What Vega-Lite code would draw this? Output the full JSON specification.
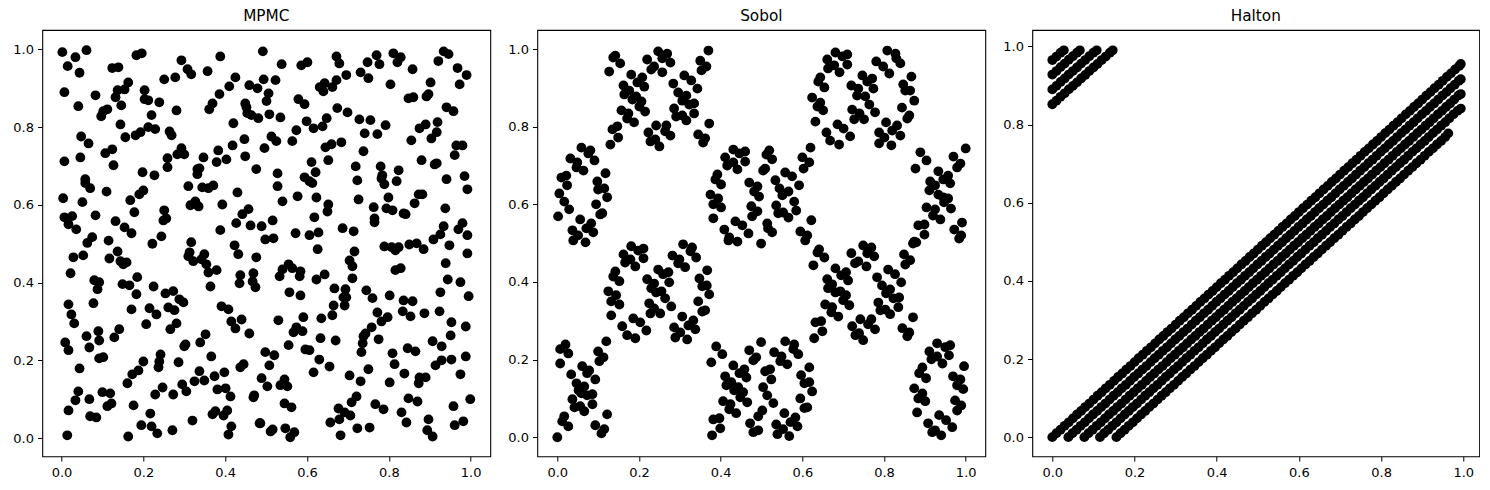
{"$schema":"https://vega.github.io/schema/vega-lite/v6.json","padding":{"left":11.3,"top":8,"right":0,"bottom":0},"background":"white","bounds":"flush","spacing":47,"config":{"view":{"stroke":"black","strokeWidth":1.1},"font":"DejaVu Sans","axis":{"grid":false,"domain":false,"tickColor":"black","tickSize":4.8,"tickWidth":1,"labelColor":"black","labelFontSize":13,"labelFont":"DejaVu Sans","labelPadding":4,"title":null,"labelFlush":false,"format":".1f"},"title":{"font":"DejaVu Sans","fontSize":15.3,"fontWeight":"normal","color":"black","offset":6}},"hconcat":[{"title":"MPMC","width":448,"height":426.3,"data":{"values":[
{"x":0.002,"y":0.993},{"x":0.034,"y":0.98},{"x":0.061,"y":0.998},{"x":0.015,"y":0.957},{"x":0.044,"y":0.94},{"x":0.007,"y":0.89},{"x":0.083,"y":0.882},{"x":0.041,"y":0.854},{"x":0.124,"y":0.952},{"x":0.139,"y":0.954},{"x":0.183,"y":0.985},{"x":0.196,"y":0.99},{"x":0.293,"y":0.972},{"x":0.388,"y":0.982},{"x":0.308,"y":0.949},{"x":0.317,"y":0.936},{"x":0.357,"y":0.944},{"x":0.251,"y":0.923},{"x":0.278,"y":0.928},{"x":0.163,"y":0.915},{"x":0.154,"y":0.897},{"x":0.137,"y":0.895},{"x":0.132,"y":0.877},{"x":0.203,"y":0.895},{"x":0.203,"y":0.872},{"x":0.212,"y":0.869},{"x":0.239,"y":0.864},{"x":0.146,"y":0.856},{"x":0.112,"y":0.846},{"x":0.102,"y":0.841},{"x":0.097,"y":0.828},{"x":0.22,"y":0.831},{"x":0.281,"y":0.843},{"x":0.144,"y":0.807},{"x":0.048,"y":0.776},{"x":0.066,"y":0.758},{"x":0.156,"y":0.774},{"x":0.181,"y":0.779},{"x":0.193,"y":0.787},{"x":0.212,"y":0.8},{"x":0.229,"y":0.795},{"x":0.264,"y":0.789},{"x":0.269,"y":0.779},{"x":0.124,"y":0.743},{"x":0.107,"y":0.733},{"x":0.007,"y":0.712},{"x":0.046,"y":0.722},{"x":0.127,"y":0.702},{"x":0.198,"y":0.684},{"x":0.227,"y":0.676},{"x":0.259,"y":0.72},{"x":0.259,"y":0.697},{"x":0.293,"y":0.746},{"x":0.283,"y":0.73},{"x":0.3,"y":0.73},{"x":0.347,"y":0.722},{"x":0.383,"y":0.74},{"x":0.379,"y":0.71},{"x":0.403,"y":0.717},{"x":0.418,"y":0.753},{"x":0.447,"y":0.769},{"x":0.449,"y":0.725},{"x":0.476,"y":0.692},{"x":0.42,"y":0.81},{"x":0.361,"y":0.846},{"x":0.369,"y":0.861},{"x":0.386,"y":0.885},{"x":0.41,"y":0.905},{"x":0.425,"y":0.928},{"x":0.459,"y":0.908},{"x":0.479,"y":0.9},{"x":0.449,"y":0.861},{"x":0.452,"y":0.851},{"x":0.454,"y":0.836},{"x":0.464,"y":0.831},{"x":0.481,"y":0.823},{"x":0.332,"y":0.692},{"x":0.337,"y":0.694},{"x":0.332,"y":0.679},{"x":0.31,"y":0.648},{"x":0.344,"y":0.645},{"x":0.359,"y":0.643},{"x":0.371,"y":0.65},{"x":0.058,"y":0.666},{"x":0.058,"y":0.656},{"x":0.07,"y":0.643},{"x":0.11,"y":0.634},{"x":0.004,"y":0.617},{"x":0.051,"y":0.607},{"x":0.2,"y":0.637},{"x":0.19,"y":0.627},{"x":0.168,"y":0.612},{"x":0.178,"y":0.581},{"x":0.251,"y":0.586},{"x":0.256,"y":0.565},{"x":0.249,"y":0.56},{"x":0.315,"y":0.599},{"x":0.327,"y":0.609},{"x":0.335,"y":0.596},{"x":0.393,"y":0.601},{"x":0.43,"y":0.632},{"x":0.457,"y":0.589},{"x":0.442,"y":0.576},{"x":0.427,"y":0.553},{"x":0.462,"y":0.547},{"x":0.007,"y":0.568},{"x":0.026,"y":0.571},{"x":0.017,"y":0.55},{"x":0.036,"y":0.537},{"x":0.083,"y":0.573},{"x":0.132,"y":0.558},{"x":0.154,"y":0.542},{"x":0.171,"y":0.527},{"x":0.244,"y":0.519},{"x":0.388,"y":0.535},{"x":0.075,"y":0.517},
{"x":0.492,"y":0.995},{"x":0.538,"y":0.962},{"x":0.586,"y":0.959},{"x":0.601,"y":0.967},{"x":0.672,"y":0.982},{"x":0.679,"y":0.964},{"x":0.77,"y":0.985},{"x":0.748,"y":0.967},{"x":0.777,"y":0.962},{"x":0.811,"y":0.99},{"x":0.829,"y":0.98},{"x":0.821,"y":0.967},{"x":0.858,"y":0.949},{"x":0.934,"y":0.995},{"x":0.946,"y":0.988},{"x":0.921,"y":0.97},{"x":0.968,"y":0.952},{"x":0.99,"y":0.934},{"x":0.973,"y":0.91},{"x":0.902,"y":0.915},{"x":0.731,"y":0.941},{"x":0.75,"y":0.926},{"x":0.696,"y":0.934},{"x":0.672,"y":0.921},{"x":0.662,"y":0.903},{"x":0.64,"y":0.892},{"x":0.643,"y":0.913},{"x":0.631,"y":0.903},{"x":0.804,"y":0.91},{"x":0.494,"y":0.923},{"x":0.523,"y":0.921},{"x":0.506,"y":0.887},{"x":0.501,"y":0.867},{"x":0.579,"y":0.872},{"x":0.594,"y":0.859},{"x":0.897,"y":0.885},{"x":0.892,"y":0.879},{"x":0.86,"y":0.877},{"x":0.848,"y":0.874},{"x":0.674,"y":0.849},{"x":0.699,"y":0.838},{"x":0.728,"y":0.82},{"x":0.755,"y":0.818},{"x":0.792,"y":0.805},{"x":0.741,"y":0.784},{"x":0.772,"y":0.782},{"x":0.648,"y":0.823},{"x":0.599,"y":0.815},{"x":0.616,"y":0.797},{"x":0.638,"y":0.802},{"x":0.574,"y":0.792},{"x":0.564,"y":0.764},{"x":0.508,"y":0.833},{"x":0.535,"y":0.825},{"x":0.513,"y":0.776},{"x":0.525,"y":0.764},{"x":0.496,"y":0.746},{"x":0.941,"y":0.851},{"x":0.958,"y":0.841},{"x":0.919,"y":0.813},{"x":0.89,"y":0.807},{"x":0.875,"y":0.797},{"x":0.917,"y":0.787},{"x":0.904,"y":0.771},{"x":0.855,"y":0.766},{"x":0.98,"y":0.753},{"x":0.965,"y":0.753},{"x":0.961,"y":0.728},{"x":0.684,"y":0.761},{"x":0.66,"y":0.756},{"x":0.645,"y":0.748},{"x":0.738,"y":0.738},{"x":0.652,"y":0.715},{"x":0.611,"y":0.71},{"x":0.621,"y":0.684},{"x":0.594,"y":0.671},{"x":0.606,"y":0.661},{"x":0.613,"y":0.656},{"x":0.528,"y":0.681},{"x":0.528,"y":0.648},{"x":0.577,"y":0.622},{"x":0.54,"y":0.609},{"x":0.623,"y":0.619},{"x":0.652,"y":0.601},{"x":0.65,"y":0.583},{"x":0.618,"y":0.568},{"x":0.719,"y":0.699},{"x":0.723,"y":0.663},{"x":0.726,"y":0.614},{"x":0.78,"y":0.699},{"x":0.784,"y":0.676},{"x":0.782,"y":0.668},{"x":0.789,"y":0.653},{"x":0.824,"y":0.689},{"x":0.819,"y":0.661},{"x":0.88,"y":0.715},{"x":0.912,"y":0.704},{"x":0.917,"y":0.707},{"x":0.941,"y":0.666},{"x":0.985,"y":0.674},{"x":0.992,"y":0.64},{"x":0.799,"y":0.619},{"x":0.763,"y":0.594},{"x":0.794,"y":0.591},{"x":0.809,"y":0.586},{"x":0.836,"y":0.578},{"x":0.841,"y":0.576},{"x":0.873,"y":0.627},{"x":0.882,"y":0.627},{"x":0.863,"y":0.604},{"x":0.938,"y":0.591},{"x":0.516,"y":0.56},{"x":0.489,"y":0.545},{"x":0.765,"y":0.565},{"x":0.765,"y":0.555},{"x":0.687,"y":0.54},{"x":0.714,"y":0.532},{"x":0.934,"y":0.545},{"x":0.98,"y":0.553},{"x":0.97,"y":0.537},{"x":0.926,"y":0.524},{"x":0.909,"y":0.511},{"x":0.992,"y":0.522},{"x":0.572,"y":0.527},{"x":0.606,"y":0.522},{"x":0.628,"y":0.529},{"x":0.498,"y":0.511},{"x":0.518,"y":0.514},
{"x":0.063,"y":0.502},{"x":0.115,"y":0.508},{"x":0.222,"y":0.5},{"x":0.317,"y":0.504},{"x":0.423,"y":0.496},{"x":0.432,"y":0.473},{"x":0.476,"y":0.465},{"x":0.029,"y":0.465},{"x":0.053,"y":0.47},{"x":0.117,"y":0.462},{"x":0.137,"y":0.48},{"x":0.144,"y":0.455},{"x":0.159,"y":0.452},{"x":0.151,"y":0.447},{"x":0.313,"y":0.478},{"x":0.31,"y":0.468},{"x":0.322,"y":0.455},{"x":0.349,"y":0.473},{"x":0.342,"y":0.46},{"x":0.354,"y":0.447},{"x":0.359,"y":0.426},{"x":0.379,"y":0.432},{"x":0.022,"y":0.424},{"x":0.08,"y":0.406},{"x":0.092,"y":0.401},{"x":0.088,"y":0.383},{"x":0.185,"y":0.414},{"x":0.149,"y":0.396},{"x":0.166,"y":0.393},{"x":0.183,"y":0.37},{"x":0.225,"y":0.39},{"x":0.254,"y":0.372},{"x":0.273,"y":0.378},{"x":0.288,"y":0.357},{"x":0.298,"y":0.349},{"x":0.364,"y":0.39},{"x":0.437,"y":0.419},{"x":0.435,"y":0.398},{"x":0.469,"y":0.424},{"x":0.467,"y":0.403},{"x":0.474,"y":0.388},{"x":0.078,"y":0.347},{"x":0.017,"y":0.344},{"x":0.024,"y":0.318},{"x":0.031,"y":0.295},{"x":0.171,"y":0.331},{"x":0.215,"y":0.334},{"x":0.232,"y":0.318},{"x":0.261,"y":0.336},{"x":0.276,"y":0.329},{"x":0.391,"y":0.339},{"x":0.408,"y":0.331},{"x":0.415,"y":0.3},{"x":0.425,"y":0.282},{"x":0.44,"y":0.305},{"x":0.459,"y":0.269},{"x":0.281,"y":0.295},{"x":0.266,"y":0.28},{"x":0.207,"y":0.293},{"x":0.09,"y":0.275},{"x":0.141,"y":0.28},{"x":0.129,"y":0.259},{"x":0.061,"y":0.262},{"x":0.092,"y":0.251},{"x":0.068,"y":0.233},{"x":0.009,"y":0.246},{"x":0.017,"y":0.226},{"x":0.352,"y":0.267},{"x":0.339,"y":0.246},{"x":0.303,"y":0.241},{"x":0.3,"y":0.236},{"x":0.092,"y":0.205},{"x":0.102,"y":0.208},{"x":0.044,"y":0.179},{"x":0.2,"y":0.197},{"x":0.242,"y":0.215},{"x":0.239,"y":0.197},{"x":0.237,"y":0.182},{"x":0.286,"y":0.195},{"x":0.366,"y":0.21},{"x":0.437,"y":0.182},{"x":0.445,"y":0.19},{"x":0.188,"y":0.174},{"x":0.173,"y":0.164},{"x":0.161,"y":0.141},{"x":0.337,"y":0.172},{"x":0.374,"y":0.159},{"x":0.398,"y":0.169},{"x":0.349,"y":0.148},{"x":0.325,"y":0.146},{"x":0.295,"y":0.138},{"x":0.305,"y":0.12},{"x":0.247,"y":0.13},{"x":0.229,"y":0.112},{"x":0.273,"y":0.112},{"x":0.041,"y":0.12},{"x":0.034,"y":0.097},{"x":0.068,"y":0.1},{"x":0.1,"y":0.118},{"x":0.119,"y":0.115},{"x":0.122,"y":0.089},{"x":0.112,"y":0.082},{"x":0.017,"y":0.071},{"x":0.176,"y":0.084},{"x":0.07,"y":0.056},{"x":0.085,"y":0.053},{"x":0.217,"y":0.063},{"x":0.195,"y":0.033},{"x":0.22,"y":0.03},{"x":0.234,"y":0.012},{"x":0.271,"y":0.02},{"x":0.32,"y":0.045},{"x":0.381,"y":0.125},{"x":0.401,"y":0.128},{"x":0.413,"y":0.107},{"x":0.471,"y":0.11},{"x":0.469,"y":0.105},{"x":0.369,"y":0.061},{"x":0.376,"y":0.069},{"x":0.396,"y":0.058},{"x":0.405,"y":0.071},{"x":0.415,"y":0.03},{"x":0.408,"y":0.009},{"x":0.484,"y":0.038},{"x":0.014,"y":0.007},{"x":0.163,"y":0.004},
{"x":0.626,"y":0.486},{"x":0.716,"y":0.48},{"x":0.704,"y":0.457},{"x":0.711,"y":0.442},{"x":0.711,"y":0.411},{"x":0.789,"y":0.493},{"x":0.807,"y":0.491},{"x":0.816,"y":0.483},{"x":0.824,"y":0.491},{"x":0.85,"y":0.498},{"x":0.868,"y":0.501},{"x":0.885,"y":0.486},{"x":0.948,"y":0.496},{"x":0.992,"y":0.475},{"x":0.939,"y":0.45},{"x":0.944,"y":0.408},{"x":0.975,"y":0.401},{"x":0.926,"y":0.375},{"x":0.995,"y":0.365},{"x":0.816,"y":0.432},{"x":0.829,"y":0.437},{"x":0.555,"y":0.447},{"x":0.54,"y":0.434},{"x":0.564,"y":0.437},{"x":0.533,"y":0.416},{"x":0.584,"y":0.429},{"x":0.582,"y":0.416},{"x":0.643,"y":0.421},{"x":0.623,"y":0.408},{"x":0.557,"y":0.375},{"x":0.584,"y":0.367},{"x":0.667,"y":0.385},{"x":0.694,"y":0.383},{"x":0.696,"y":0.362},{"x":0.689,"y":0.362},{"x":0.692,"y":0.341},{"x":0.665,"y":0.341},{"x":0.662,"y":0.316},{"x":0.745,"y":0.38},{"x":0.76,"y":0.36},{"x":0.802,"y":0.367},{"x":0.836,"y":0.354},{"x":0.858,"y":0.352},{"x":0.772,"y":0.323},{"x":0.834,"y":0.326},{"x":0.853,"y":0.313},{"x":0.887,"y":0.321},{"x":0.924,"y":0.326},{"x":0.797,"y":0.311},{"x":0.782,"y":0.3},{"x":0.758,"y":0.285},{"x":0.743,"y":0.269},{"x":0.738,"y":0.262},{"x":0.736,"y":0.244},{"x":0.733,"y":0.221},{"x":0.775,"y":0.254},{"x":0.53,"y":0.303},{"x":0.591,"y":0.311},{"x":0.635,"y":0.308},{"x":0.574,"y":0.285},{"x":0.567,"y":0.272},{"x":0.589,"y":0.275},{"x":0.633,"y":0.257},{"x":0.67,"y":0.251},{"x":0.555,"y":0.239},{"x":0.596,"y":0.228},{"x":0.606,"y":0.226},{"x":0.63,"y":0.202},{"x":0.655,"y":0.184},{"x":0.616,"y":0.169},{"x":0.498,"y":0.221},{"x":0.52,"y":0.213},{"x":0.508,"y":0.187},{"x":0.489,"y":0.154},{"x":0.503,"y":0.133},{"x":0.545,"y":0.151},{"x":0.535,"y":0.136},{"x":0.552,"y":0.133},{"x":0.545,"y":0.089},{"x":0.562,"y":0.079},{"x":0.704,"y":0.161},{"x":0.731,"y":0.146},{"x":0.75,"y":0.177},{"x":0.809,"y":0.218},{"x":0.814,"y":0.19},{"x":0.846,"y":0.231},{"x":0.865,"y":0.223},{"x":0.907,"y":0.249},{"x":0.929,"y":0.236},{"x":0.951,"y":0.264},{"x":0.953,"y":0.298},{"x":0.988,"y":0.287},{"x":0.988,"y":0.21},{"x":0.953,"y":0.202},{"x":0.929,"y":0.2},{"x":0.914,"y":0.187},{"x":0.838,"y":0.166},{"x":0.802,"y":0.143},{"x":0.875,"y":0.156},{"x":0.89,"y":0.156},{"x":0.873,"y":0.141},{"x":0.975,"y":0.164},{"x":0.721,"y":0.107},{"x":0.709,"y":0.092},{"x":0.677,"y":0.076},{"x":0.692,"y":0.066},{"x":0.706,"y":0.058},{"x":0.679,"y":0.048},{"x":0.657,"y":0.04},{"x":0.723,"y":0.025},{"x":0.753,"y":0.027},{"x":0.682,"y":0.007},{"x":0.767,"y":0.087},{"x":0.787,"y":0.074},{"x":0.831,"y":0.066},{"x":0.843,"y":0.04},{"x":0.848,"y":0.102},{"x":0.87,"y":0.094},{"x":0.897,"y":0.048},{"x":0.894,"y":0.02},{"x":0.907,"y":0.004},{"x":0.958,"y":0.082},{"x":0.999,"y":0.1},{"x":0.982,"y":0.043},{"x":0.961,"y":0.033},{"x":0.486,"y":0.038},{"x":0.516,"y":0.022},{"x":0.511,"y":0.017},{"x":0.547,"y":0.025},{"x":0.569,"y":0.015},{"x":0.559,"y":0.002}
]},"mark":{"type":"circle","size":96,"color":"black","opacity":1},"encoding":{"x":{"field":"x","type":"quantitative","scale":{"domain":[-0.047,1.048],"nice":false,"zero":false},"axis":{"values":[0,0.2,0.4,0.6,0.8,1],"labelPadding":5.5}},"y":{"field":"y","type":"quantitative","scale":{"domain":[-0.047,1.05],"nice":false,"zero":false},"axis":{"values":[0,0.2,0.4,0.6,0.8,1]}}}},{"title":"Sobol","width":448,"height":426.3,"data":{"values":[
{"x":0.142,"y":0.983},{"x":0.137,"y":0.978},{"x":0.154,"y":0.963},{"x":0.127,"y":0.942},{"x":0.181,"y":0.934},{"x":0.162,"y":0.906},{"x":0.208,"y":0.927},{"x":0.196,"y":0.914},{"x":0.213,"y":0.903},{"x":0.176,"y":0.893},{"x":0.164,"y":0.883},{"x":0.184,"y":0.87},{"x":0.193,"y":0.878},{"x":0.206,"y":0.865},{"x":0.201,"y":0.852},{"x":0.215,"y":0.839},{"x":0.157,"y":0.842},{"x":0.174,"y":0.834},{"x":0.171,"y":0.821},{"x":0.188,"y":0.811},{"x":0.147,"y":0.801},{"x":0.135,"y":0.793},{"x":0.149,"y":0.772},{"x":0.13,"y":0.754},{"x":0.247,"y":0.994},{"x":0.269,"y":0.988},{"x":0.257,"y":0.976},{"x":0.22,"y":0.973},{"x":0.277,"y":0.965},{"x":0.237,"y":0.955},{"x":0.23,"y":0.947},{"x":0.257,"y":0.94},{"x":0.242,"y":0.803},{"x":0.267,"y":0.803},{"x":0.223,"y":0.785},{"x":0.264,"y":0.788},{"x":0.277,"y":0.777},{"x":0.24,"y":0.767},{"x":0.228,"y":0.762},{"x":0.25,"y":0.749},{"x":0.37,"y":0.996},{"x":0.35,"y":0.97},{"x":0.365,"y":0.955},{"x":0.353,"y":0.945},{"x":0.311,"y":0.932},{"x":0.328,"y":0.919},{"x":0.284,"y":0.911},{"x":0.343,"y":0.898},{"x":0.296,"y":0.888},{"x":0.316,"y":0.88},{"x":0.306,"y":0.867},{"x":0.323,"y":0.857},{"x":0.335,"y":0.86},{"x":0.286,"y":0.847},{"x":0.291,"y":0.826},{"x":0.306,"y":0.829},{"x":0.316,"y":0.816},{"x":0.335,"y":0.834},{"x":0.372,"y":0.808},{"x":0.345,"y":0.78},{"x":0.362,"y":0.77},{"x":0.357,"y":0.759},
{"x":0.059,"y":0.746},{"x":0.081,"y":0.739},{"x":0.076,"y":0.731},{"x":0.032,"y":0.718},{"x":0.091,"y":0.713},{"x":0.049,"y":0.708},{"x":0.047,"y":0.695},{"x":0.064,"y":0.687},{"x":0.022,"y":0.674},{"x":0.01,"y":0.669},{"x":0.118,"y":0.68},{"x":0.098,"y":0.659},{"x":0.024,"y":0.649},{"x":0.115,"y":0.641},{"x":0.1,"y":0.638},{"x":0.005,"y":0.628},{"x":0.122,"y":0.618},{"x":0.017,"y":0.607},{"x":0.095,"y":0.6},{"x":0.029,"y":0.587},{"x":0.11,"y":0.577},{"x":0.105,"y":0.574},{"x":0.002,"y":0.569},{"x":0.056,"y":0.561},{"x":0.083,"y":0.551},{"x":0.071,"y":0.538},{"x":0.037,"y":0.533},{"x":0.088,"y":0.528},{"x":0.051,"y":0.52},{"x":0.039,"y":0.507},{"x":0.069,"y":0.502},
{"x":0.431,"y":0.741},{"x":0.46,"y":0.736},{"x":0.446,"y":0.731},{"x":0.411,"y":0.721},{"x":0.46,"y":0.71},{"x":0.431,"y":0.708},{"x":0.416,"y":0.7},{"x":0.441,"y":0.69},{"x":0.392,"y":0.677},{"x":0.387,"y":0.664},{"x":0.401,"y":0.651},{"x":0.47,"y":0.656},{"x":0.49,"y":0.646},{"x":0.482,"y":0.633},{"x":0.494,"y":0.62},{"x":0.375,"y":0.625},{"x":0.394,"y":0.615},{"x":0.382,"y":0.6},{"x":0.401,"y":0.592},{"x":0.475,"y":0.595},{"x":0.49,"y":0.582},{"x":0.477,"y":0.569},{"x":0.382,"y":0.564},{"x":0.436,"y":0.556},{"x":0.453,"y":0.546},{"x":0.409,"y":0.535},{"x":0.468,"y":0.525},{"x":0.421,"y":0.515},{"x":0.441,"y":0.504},{"x":0.419,"y":0.507},{"x":0.499,"y":0.499},
{"x":0.681,"y":0.991},{"x":0.71,"y":0.986},{"x":0.698,"y":0.981},{"x":0.661,"y":0.973},{"x":0.71,"y":0.96},{"x":0.678,"y":0.958},{"x":0.663,"y":0.95},{"x":0.691,"y":0.94},{"x":0.644,"y":0.927},{"x":0.639,"y":0.916},{"x":0.654,"y":0.901},{"x":0.624,"y":0.875},{"x":0.644,"y":0.862},{"x":0.637,"y":0.852},{"x":0.651,"y":0.842},{"x":0.632,"y":0.813},{"x":0.686,"y":0.806},{"x":0.701,"y":0.795},{"x":0.659,"y":0.785},{"x":0.717,"y":0.775},{"x":0.668,"y":0.764},{"x":0.69,"y":0.754},{"x":0.747,"y":0.932},{"x":0.771,"y":0.924},{"x":0.759,"y":0.916},{"x":0.72,"y":0.906},{"x":0.774,"y":0.898},{"x":0.737,"y":0.898},{"x":0.734,"y":0.88},{"x":0.754,"y":0.878},{"x":0.764,"y":0.857},{"x":0.722,"y":0.844},{"x":0.74,"y":0.834},{"x":0.778,"y":0.837},{"x":0.727,"y":0.819},{"x":0.751,"y":0.819},{"x":0.808,"y":0.996},{"x":0.828,"y":0.988},{"x":0.83,"y":0.976},{"x":0.781,"y":0.968},{"x":0.84,"y":0.963},{"x":0.798,"y":0.955},{"x":0.813,"y":0.937},{"x":0.867,"y":0.929},{"x":0.847,"y":0.909},{"x":0.852,"y":0.893},{"x":0.864,"y":0.893},{"x":0.874,"y":0.867},{"x":0.844,"y":0.849},{"x":0.862,"y":0.829},{"x":0.857,"y":0.821},{"x":0.805,"y":0.811},{"x":0.832,"y":0.803},{"x":0.82,"y":0.79},{"x":0.84,"y":0.777},{"x":0.788,"y":0.785},{"x":0.801,"y":0.772},{"x":0.788,"y":0.757},{"x":0.818,"y":0.752},
{"x":0.62,"y":0.746},{"x":0.6,"y":0.721},{"x":0.617,"y":0.708},{"x":0.603,"y":0.692},{"x":0.558,"y":0.682},{"x":0.575,"y":0.672},{"x":0.592,"y":0.649},{"x":0.534,"y":0.662},{"x":0.544,"y":0.641},{"x":0.566,"y":0.633},{"x":0.551,"y":0.623},{"x":0.58,"y":0.607},{"x":0.536,"y":0.597},{"x":0.585,"y":0.584},{"x":0.541,"y":0.577},{"x":0.553,"y":0.579},{"x":0.566,"y":0.566},{"x":0.622,"y":0.559},{"x":0.514,"y":0.551},{"x":0.595,"y":0.53},{"x":0.516,"y":0.538},{"x":0.526,"y":0.528},{"x":0.612,"y":0.52},{"x":0.607,"y":0.507},{"x":0.519,"y":0.739},{"x":0.512,"y":0.728},{"x":0.526,"y":0.716},{"x":0.509,"y":0.692},{"x":0.504,"y":0.687},
{"x":0.889,"y":0.734},{"x":0.904,"y":0.713},{"x":0.877,"y":0.692},{"x":1,"y":0.744},{"x":0.97,"y":0.723},{"x":0.987,"y":0.705},{"x":0.979,"y":0.695},{"x":0.933,"y":0.685},{"x":0.957,"y":0.674},{"x":0.945,"y":0.664},{"x":0.962,"y":0.654},{"x":0.913,"y":0.659},{"x":0.925,"y":0.649},{"x":0.911,"y":0.636},{"x":0.933,"y":0.625},{"x":0.945,"y":0.618},{"x":0.957,"y":0.615},{"x":0.947,"y":0.605},{"x":0.964,"y":0.589},{"x":0.904,"y":0.592},{"x":0.925,"y":0.587},{"x":0.92,"y":0.571},{"x":0.938,"y":0.561},{"x":0.991,"y":0.553},{"x":0.884,"y":0.546},{"x":0.899,"y":0.548},{"x":0.972,"y":0.535},{"x":0.989,"y":0.52},{"x":0.984,"y":0.512},{"x":0.899,"y":0.522},{"x":0.874,"y":0.504},
{"x":0.181,"y":0.492},{"x":0.198,"y":0.481},{"x":0.211,"y":0.486},{"x":0.162,"y":0.471},{"x":0.211,"y":0.461},{"x":0.179,"y":0.458},{"x":0.166,"y":0.45},{"x":0.191,"y":0.44},{"x":0.142,"y":0.427},{"x":0.137,"y":0.414},{"x":0.152,"y":0.402},{"x":0.125,"y":0.376},{"x":0.144,"y":0.366},{"x":0.132,"y":0.35},{"x":0.152,"y":0.342},{"x":0.132,"y":0.314},{"x":0.308,"y":0.497},{"x":0.33,"y":0.489},{"x":0.326,"y":0.479},{"x":0.34,"y":0.463},{"x":0.282,"y":0.468},{"x":0.299,"y":0.458},{"x":0.296,"y":0.448},{"x":0.313,"y":0.438},{"x":0.367,"y":0.43},{"x":0.247,"y":0.432},{"x":0.272,"y":0.425},{"x":0.259,"y":0.42},{"x":0.348,"y":0.409},{"x":0.22,"y":0.407},{"x":0.237,"y":0.396},{"x":0.274,"y":0.399},{"x":0.366,"y":0.391},{"x":0.355,"y":0.389},{"x":0.23,"y":0.384},{"x":0.255,"y":0.376},{"x":0.242,"y":0.373},{"x":0.372,"y":0.368},{"x":0.264,"y":0.358},{"x":0.345,"y":0.35},{"x":0.225,"y":0.345},{"x":0.279,"y":0.337},{"x":0.237,"y":0.332},{"x":0.228,"y":0.319},{"x":0.252,"y":0.319},{"x":0.362,"y":0.327},{"x":0.355,"y":0.324},{"x":0.306,"y":0.311},{"x":0.186,"y":0.306},{"x":0.203,"y":0.296},{"x":0.159,"y":0.286},{"x":0.218,"y":0.275},{"x":0.171,"y":0.263},{"x":0.191,"y":0.255},{"x":0.333,"y":0.301},{"x":0.321,"y":0.288},{"x":0.286,"y":0.283},{"x":0.338,"y":0.278},{"x":0.301,"y":0.27},{"x":0.289,"y":0.257},{"x":0.318,"y":0.252},
{"x":0.12,"y":0.247},{"x":0.02,"y":0.239},{"x":0.007,"y":0.227},{"x":0.027,"y":0.216},{"x":0.1,"y":0.221},{"x":0.113,"y":0.206},{"x":0.103,"y":0.196},{"x":0.007,"y":0.19},{"x":0.061,"y":0.183},{"x":0.078,"y":0.172},{"x":0.073,"y":0.165},{"x":0.034,"y":0.162},{"x":0.093,"y":0.149},{"x":0.047,"y":0.139},{"x":0.066,"y":0.131},{"x":0.052,"y":0.121},{"x":0.059,"y":0.113},{"x":0.086,"y":0.111},{"x":0.073,"y":0.108},{"x":0.037,"y":0.098},{"x":0.086,"y":0.085},{"x":0.042,"y":0.077},{"x":0.056,"y":0.08},{"x":0.066,"y":0.067},{"x":0.122,"y":0.059},{"x":0.017,"y":0.054},{"x":0.012,"y":0.041},{"x":0.027,"y":0.028},{"x":0.093,"y":0.031},{"x":0.115,"y":0.021},{"x":0.108,"y":0.01},{"x":0,"y":0},
{"x":0.389,"y":0.234},{"x":0.404,"y":0.214},{"x":0.377,"y":0.193},{"x":0.499,"y":0.245},{"x":0.47,"y":0.224},{"x":0.487,"y":0.206},{"x":0.48,"y":0.198},{"x":0.431,"y":0.185},{"x":0.458,"y":0.175},{"x":0.446,"y":0.165},{"x":0.463,"y":0.154},{"x":0.411,"y":0.157},{"x":0.426,"y":0.142},{"x":0.414,"y":0.134},{"x":0.509,"y":0.17},{"x":0.443,"y":0.129},{"x":0.433,"y":0.121},{"x":0.455,"y":0.116},{"x":0.448,"y":0.103},{"x":0.465,"y":0.09},{"x":0.406,"y":0.093},{"x":0.424,"y":0.085},{"x":0.421,"y":0.072},{"x":0.438,"y":0.062},{"x":0.502,"y":0.069},{"x":0.492,"y":0.054},{"x":0.382,"y":0.046},{"x":0.397,"y":0.049},{"x":0.472,"y":0.036},{"x":0.399,"y":0.023},{"x":0.492,"y":0.018},{"x":0.48,"y":0.013},{"x":0.379,"y":0.005},{"x":0.504,"y":0.129},
{"x":0.558,"y":0.247},{"x":0.58,"y":0.239},{"x":0.578,"y":0.227},{"x":0.59,"y":0.214},{"x":0.531,"y":0.219},{"x":0.549,"y":0.208},{"x":0.546,"y":0.196},{"x":0.563,"y":0.188},{"x":0.521,"y":0.175},{"x":0.524,"y":0.149},{"x":0.617,"y":0.18},{"x":0.597,"y":0.16},{"x":0.605,"y":0.139},{"x":0.617,"y":0.142},{"x":0.624,"y":0.118},{"x":0.514,"y":0.108},{"x":0.529,"y":0.088},{"x":0.595,"y":0.1},{"x":0.612,"y":0.077},{"x":0.605,"y":0.075},{"x":0.556,"y":0.062},{"x":0.583,"y":0.051},{"x":0.571,"y":0.039},{"x":0.536,"y":0.033},{"x":0.553,"y":0.021},{"x":0.588,"y":0.028},{"x":0.539,"y":0.008},{"x":0.568,"y":0.003},
{"x":0.641,"y":0.484},{"x":0.637,"y":0.476},{"x":0.654,"y":0.463},{"x":0.627,"y":0.443},{"x":0.72,"y":0.474},{"x":0.737,"y":0.453},{"x":0.729,"y":0.448},{"x":0.757,"y":0.44},{"x":0.749,"y":0.494},{"x":0.769,"y":0.489},{"x":0.759,"y":0.474},{"x":0.776,"y":0.466},{"x":0.871,"y":0.499},{"x":0.879,"y":0.502},{"x":0.849,"y":0.471},{"x":0.864,"y":0.456},{"x":0.852,"y":0.445},{"x":0.681,"y":0.435},{"x":0.707,"y":0.425},{"x":0.695,"y":0.417},{"x":0.712,"y":0.404},{"x":0.661,"y":0.407},{"x":0.673,"y":0.394},{"x":0.663,"y":0.384},{"x":0.693,"y":0.376},{"x":0.681,"y":0.373},{"x":0.707,"y":0.366},{"x":0.7,"y":0.353},{"x":0.715,"y":0.34},{"x":0.656,"y":0.342},{"x":0.673,"y":0.335},{"x":0.671,"y":0.322},{"x":0.688,"y":0.311},{"x":0.81,"y":0.432},{"x":0.827,"y":0.42},{"x":0.783,"y":0.412},{"x":0.842,"y":0.399},{"x":0.795,"y":0.391},{"x":0.815,"y":0.381},{"x":0.805,"y":0.371},{"x":0.823,"y":0.358},{"x":0.837,"y":0.36},{"x":0.786,"y":0.347},{"x":0.835,"y":0.335},{"x":0.791,"y":0.327},{"x":0.803,"y":0.329},{"x":0.815,"y":0.317},{"x":0.871,"y":0.309},{"x":0.742,"y":0.304},{"x":0.769,"y":0.304},{"x":0.646,"y":0.299},{"x":0.632,"y":0.296},{"x":0.722,"y":0.286},{"x":0.761,"y":0.291},{"x":0.778,"y":0.278},{"x":0.649,"y":0.273},{"x":0.739,"y":0.268},{"x":0.73,"y":0.263},{"x":0.629,"y":0.255},{"x":0.749,"y":0.25},{"x":0.845,"y":0.281},{"x":0.862,"y":0.27},{"x":0.857,"y":0.26},
{"x":0.93,"y":0.242},{"x":0.962,"y":0.237},{"x":0.95,"y":0.232},{"x":0.911,"y":0.221},{"x":0.959,"y":0.211},{"x":0.93,"y":0.208},{"x":0.916,"y":0.201},{"x":0.943,"y":0.19},{"x":0.996,"y":0.183},{"x":0.894,"y":0.18},{"x":0.886,"y":0.165},{"x":0.903,"y":0.152},{"x":0.969,"y":0.157},{"x":0.987,"y":0.149},{"x":0.979,"y":0.134},{"x":0.994,"y":0.124},{"x":0.874,"y":0.126},{"x":0.894,"y":0.113},{"x":0.884,"y":0.1},{"x":0.901,"y":0.093},{"x":0.974,"y":0.095},{"x":0.989,"y":0.082},{"x":0.979,"y":0.069},{"x":0.881,"y":0.064},{"x":0.935,"y":0.057},{"x":0.952,"y":0.044},{"x":0.908,"y":0.036},{"x":0.967,"y":0.026},{"x":0.925,"y":0.018},{"x":0.918,"y":0.013},{"x":0.94,"y":0.005}
]},"mark":{"type":"circle","size":96,"color":"black","opacity":1},"encoding":{"x":{"field":"x","type":"quantitative","scale":{"domain":[-0.049,1.048],"nice":false,"zero":false},"axis":{"values":[0,0.2,0.4,0.6,0.8,1],"labelPadding":5.5}},"y":{"field":"y","type":"quantitative","scale":{"domain":[-0.049,1.049],"nice":false,"zero":false},"axis":{"values":[0,0.2,0.4,0.6,0.8,1]}}}},{"title":"Halton","width":447,"height":426.3,"data":{"values":[
{"x":0,"y":0},{"x":0.01,"y":0.01},{"x":0.02,"y":0.019},{"x":0.03,"y":0.029},{"x":0.04,"y":0.038},{"x":0.05,"y":0.048},{"x":0.06,"y":0.058},{"x":0.07,"y":0.067},{"x":0.08,"y":0.077},{"x":0.09,"y":0.086},{"x":0.1,"y":0.096},{"x":0.11,"y":0.106},{"x":0.12,"y":0.115},{"x":0.13,"y":0.125},{"x":0.14,"y":0.134},{"x":0.15,"y":0.144},{"x":0.16,"y":0.154},{"x":0.17,"y":0.163},{"x":0.18,"y":0.173},{"x":0.19,"y":0.182},{"x":0.2,"y":0.192},{"x":0.21,"y":0.202},{"x":0.22,"y":0.211},{"x":0.23,"y":0.221},{"x":0.24,"y":0.23},{"x":0.25,"y":0.24},{"x":0.26,"y":0.25},{"x":0.27,"y":0.259},{"x":0.28,"y":0.269},{"x":0.29,"y":0.278},{"x":0.3,"y":0.288},{"x":0.31,"y":0.298},{"x":0.32,"y":0.307},{"x":0.33,"y":0.317},{"x":0.34,"y":0.326},{"x":0.35,"y":0.336},{"x":0.36,"y":0.346},{"x":0.37,"y":0.355},{"x":0.38,"y":0.365},{"x":0.39,"y":0.374},{"x":0.4,"y":0.384},{"x":0.41,"y":0.394},{"x":0.42,"y":0.403},{"x":0.43,"y":0.413},{"x":0.44,"y":0.422},{"x":0.45,"y":0.432},{"x":0.46,"y":0.442},{"x":0.47,"y":0.451},{"x":0.48,"y":0.461},{"x":0.49,"y":0.47},{"x":0.5,"y":0.48},{"x":0.51,"y":0.49},{"x":0.52,"y":0.499},{"x":0.53,"y":0.509},{"x":0.54,"y":0.518},{"x":0.55,"y":0.528},{"x":0.56,"y":0.538},{"x":0.57,"y":0.547},{"x":0.58,"y":0.557},{"x":0.59,"y":0.566},{"x":0.6,"y":0.576},{"x":0.61,"y":0.586},{"x":0.62,"y":0.595},{"x":0.63,"y":0.605},{"x":0.64,"y":0.614},{"x":0.65,"y":0.624},{"x":0.66,"y":0.634},{"x":0.67,"y":0.643},{"x":0.68,"y":0.653},{"x":0.69,"y":0.662},{"x":0.7,"y":0.672},{"x":0.71,"y":0.682},{"x":0.72,"y":0.691},{"x":0.73,"y":0.701},{"x":0.74,"y":0.71},{"x":0.75,"y":0.72},{"x":0.76,"y":0.73},{"x":0.77,"y":0.739},{"x":0.78,"y":0.749},{"x":0.79,"y":0.758},{"x":0.8,"y":0.768},{"x":0.81,"y":0.778},{"x":0.82,"y":0.787},{"x":0.83,"y":0.797},{"x":0.84,"y":0.806},{"x":0.85,"y":0.816},{"x":0.86,"y":0.826},{"x":0.87,"y":0.835},{"x":0.88,"y":0.845},{"x":0.89,"y":0.854},{"x":0.9,"y":0.864},{"x":0.91,"y":0.874},{"x":0.92,"y":0.883},{"x":0.93,"y":0.893},{"x":0.94,"y":0.902},{"x":0.95,"y":0.912},{"x":0.96,"y":0.922},{"x":0.97,"y":0.931},{"x":0.98,"y":0.941},{"x":0.99,"y":0.95},{"x":0.994,"y":0.955},
{"x":0.039,"y":0},{"x":0.049,"y":0.01},{"x":0.059,"y":0.019},{"x":0.069,"y":0.029},{"x":0.079,"y":0.038},{"x":0.089,"y":0.048},{"x":0.099,"y":0.058},{"x":0.109,"y":0.067},{"x":0.119,"y":0.077},{"x":0.129,"y":0.086},{"x":0.139,"y":0.096},{"x":0.149,"y":0.106},{"x":0.159,"y":0.115},{"x":0.169,"y":0.125},{"x":0.179,"y":0.134},{"x":0.189,"y":0.144},{"x":0.199,"y":0.154},{"x":0.209,"y":0.163},{"x":0.219,"y":0.173},{"x":0.229,"y":0.182},{"x":0.239,"y":0.192},{"x":0.249,"y":0.202},{"x":0.259,"y":0.211},{"x":0.269,"y":0.221},{"x":0.279,"y":0.23},{"x":0.289,"y":0.24},{"x":0.299,"y":0.25},{"x":0.309,"y":0.259},{"x":0.319,"y":0.269},{"x":0.329,"y":0.278},{"x":0.339,"y":0.288},{"x":0.349,"y":0.298},{"x":0.359,"y":0.307},{"x":0.369,"y":0.317},{"x":0.379,"y":0.326},{"x":0.389,"y":0.336},{"x":0.399,"y":0.346},{"x":0.409,"y":0.355},{"x":0.419,"y":0.365},{"x":0.429,"y":0.374},{"x":0.439,"y":0.384},{"x":0.449,"y":0.394},{"x":0.459,"y":0.403},{"x":0.469,"y":0.413},{"x":0.479,"y":0.422},{"x":0.489,"y":0.432},{"x":0.499,"y":0.442},{"x":0.509,"y":0.451},{"x":0.519,"y":0.461},{"x":0.529,"y":0.47},{"x":0.539,"y":0.48},{"x":0.549,"y":0.49},{"x":0.559,"y":0.499},{"x":0.569,"y":0.509},{"x":0.579,"y":0.518},{"x":0.589,"y":0.528},{"x":0.599,"y":0.538},{"x":0.609,"y":0.547},{"x":0.619,"y":0.557},{"x":0.629,"y":0.566},{"x":0.639,"y":0.576},{"x":0.649,"y":0.586},{"x":0.659,"y":0.595},{"x":0.669,"y":0.605},{"x":0.679,"y":0.614},{"x":0.689,"y":0.624},{"x":0.699,"y":0.634},{"x":0.709,"y":0.643},{"x":0.719,"y":0.653},{"x":0.729,"y":0.662},{"x":0.739,"y":0.672},{"x":0.749,"y":0.682},{"x":0.759,"y":0.691},{"x":0.769,"y":0.701},{"x":0.779,"y":0.71},{"x":0.789,"y":0.72},{"x":0.799,"y":0.73},{"x":0.809,"y":0.739},{"x":0.819,"y":0.749},{"x":0.829,"y":0.758},{"x":0.839,"y":0.768},{"x":0.849,"y":0.778},{"x":0.859,"y":0.787},{"x":0.869,"y":0.797},{"x":0.879,"y":0.806},{"x":0.889,"y":0.816},{"x":0.899,"y":0.826},{"x":0.909,"y":0.835},{"x":0.919,"y":0.845},{"x":0.929,"y":0.854},{"x":0.939,"y":0.864},{"x":0.949,"y":0.874},{"x":0.959,"y":0.883},{"x":0.969,"y":0.893},{"x":0.979,"y":0.902},{"x":0.989,"y":0.912},{"x":0.994,"y":0.916},
{"x":0.078,"y":0},{"x":0.088,"y":0.01},{"x":0.098,"y":0.019},{"x":0.108,"y":0.029},{"x":0.118,"y":0.038},{"x":0.128,"y":0.048},{"x":0.138,"y":0.058},{"x":0.148,"y":0.067},{"x":0.158,"y":0.077},{"x":0.168,"y":0.086},{"x":0.178,"y":0.096},{"x":0.188,"y":0.106},{"x":0.198,"y":0.115},{"x":0.208,"y":0.125},{"x":0.218,"y":0.134},{"x":0.228,"y":0.144},{"x":0.238,"y":0.154},{"x":0.248,"y":0.163},{"x":0.258,"y":0.173},{"x":0.268,"y":0.182},{"x":0.278,"y":0.192},{"x":0.288,"y":0.202},{"x":0.298,"y":0.211},{"x":0.308,"y":0.221},{"x":0.318,"y":0.23},{"x":0.328,"y":0.24},{"x":0.338,"y":0.25},{"x":0.348,"y":0.259},{"x":0.358,"y":0.269},{"x":0.368,"y":0.278},{"x":0.378,"y":0.288},{"x":0.388,"y":0.298},{"x":0.398,"y":0.307},{"x":0.408,"y":0.317},{"x":0.418,"y":0.326},{"x":0.428,"y":0.336},{"x":0.438,"y":0.346},{"x":0.448,"y":0.355},{"x":0.458,"y":0.365},{"x":0.468,"y":0.374},{"x":0.478,"y":0.384},{"x":0.488,"y":0.394},{"x":0.498,"y":0.403},{"x":0.508,"y":0.413},{"x":0.518,"y":0.422},{"x":0.528,"y":0.432},{"x":0.538,"y":0.442},{"x":0.548,"y":0.451},{"x":0.558,"y":0.461},{"x":0.568,"y":0.47},{"x":0.578,"y":0.48},{"x":0.588,"y":0.49},{"x":0.598,"y":0.499},{"x":0.608,"y":0.509},{"x":0.618,"y":0.518},{"x":0.628,"y":0.528},{"x":0.638,"y":0.538},{"x":0.648,"y":0.547},{"x":0.658,"y":0.557},{"x":0.668,"y":0.566},{"x":0.678,"y":0.576},{"x":0.688,"y":0.586},{"x":0.698,"y":0.595},{"x":0.708,"y":0.605},{"x":0.718,"y":0.614},{"x":0.728,"y":0.624},{"x":0.738,"y":0.634},{"x":0.748,"y":0.643},{"x":0.758,"y":0.653},{"x":0.768,"y":0.662},{"x":0.778,"y":0.672},{"x":0.788,"y":0.682},{"x":0.798,"y":0.691},{"x":0.808,"y":0.701},{"x":0.818,"y":0.71},{"x":0.828,"y":0.72},{"x":0.838,"y":0.73},{"x":0.848,"y":0.739},{"x":0.858,"y":0.749},{"x":0.868,"y":0.758},{"x":0.878,"y":0.768},{"x":0.888,"y":0.778},{"x":0.898,"y":0.787},{"x":0.908,"y":0.797},{"x":0.918,"y":0.806},{"x":0.928,"y":0.816},{"x":0.938,"y":0.826},{"x":0.948,"y":0.835},{"x":0.958,"y":0.845},{"x":0.968,"y":0.854},{"x":0.978,"y":0.864},{"x":0.988,"y":0.874},{"x":0.994,"y":0.878},
{"x":0.116,"y":0},{"x":0.126,"y":0.01},{"x":0.136,"y":0.019},{"x":0.146,"y":0.029},{"x":0.156,"y":0.038},{"x":0.166,"y":0.048},{"x":0.176,"y":0.058},{"x":0.186,"y":0.067},{"x":0.196,"y":0.077},{"x":0.206,"y":0.086},{"x":0.216,"y":0.096},{"x":0.226,"y":0.106},{"x":0.236,"y":0.115},{"x":0.246,"y":0.125},{"x":0.256,"y":0.134},{"x":0.266,"y":0.144},{"x":0.276,"y":0.154},{"x":0.286,"y":0.163},{"x":0.296,"y":0.173},{"x":0.306,"y":0.182},{"x":0.316,"y":0.192},{"x":0.326,"y":0.202},{"x":0.336,"y":0.211},{"x":0.346,"y":0.221},{"x":0.356,"y":0.23},{"x":0.366,"y":0.24},{"x":0.376,"y":0.25},{"x":0.386,"y":0.259},{"x":0.396,"y":0.269},{"x":0.406,"y":0.278},{"x":0.416,"y":0.288},{"x":0.426,"y":0.298},{"x":0.436,"y":0.307},{"x":0.446,"y":0.317},{"x":0.456,"y":0.326},{"x":0.466,"y":0.336},{"x":0.476,"y":0.346},{"x":0.486,"y":0.355},{"x":0.496,"y":0.365},{"x":0.506,"y":0.374},{"x":0.516,"y":0.384},{"x":0.526,"y":0.394},{"x":0.536,"y":0.403},{"x":0.546,"y":0.413},{"x":0.556,"y":0.422},{"x":0.566,"y":0.432},{"x":0.576,"y":0.442},{"x":0.586,"y":0.451},{"x":0.596,"y":0.461},{"x":0.606,"y":0.47},{"x":0.616,"y":0.48},{"x":0.626,"y":0.49},{"x":0.636,"y":0.499},{"x":0.646,"y":0.509},{"x":0.656,"y":0.518},{"x":0.666,"y":0.528},{"x":0.676,"y":0.538},{"x":0.686,"y":0.547},{"x":0.696,"y":0.557},{"x":0.706,"y":0.566},{"x":0.716,"y":0.576},{"x":0.726,"y":0.586},{"x":0.736,"y":0.595},{"x":0.746,"y":0.605},{"x":0.756,"y":0.614},{"x":0.766,"y":0.624},{"x":0.776,"y":0.634},{"x":0.786,"y":0.643},{"x":0.796,"y":0.653},{"x":0.806,"y":0.662},{"x":0.816,"y":0.672},{"x":0.826,"y":0.682},{"x":0.836,"y":0.691},{"x":0.846,"y":0.701},{"x":0.856,"y":0.71},{"x":0.866,"y":0.72},{"x":0.876,"y":0.73},{"x":0.886,"y":0.739},{"x":0.896,"y":0.749},{"x":0.906,"y":0.758},{"x":0.916,"y":0.768},{"x":0.926,"y":0.778},{"x":0.936,"y":0.787},{"x":0.946,"y":0.797},{"x":0.956,"y":0.806},{"x":0.966,"y":0.816},{"x":0.976,"y":0.826},{"x":0.986,"y":0.835},{"x":0.994,"y":0.841},
{"x":0.156,"y":0},{"x":0.166,"y":0.01},{"x":0.176,"y":0.019},{"x":0.186,"y":0.029},{"x":0.196,"y":0.038},{"x":0.206,"y":0.048},{"x":0.216,"y":0.058},{"x":0.226,"y":0.067},{"x":0.236,"y":0.077},{"x":0.246,"y":0.086},{"x":0.256,"y":0.096},{"x":0.266,"y":0.106},{"x":0.276,"y":0.115},{"x":0.286,"y":0.125},{"x":0.296,"y":0.134},{"x":0.306,"y":0.144},{"x":0.316,"y":0.154},{"x":0.326,"y":0.163},{"x":0.336,"y":0.173},{"x":0.346,"y":0.182},{"x":0.356,"y":0.192},{"x":0.366,"y":0.202},{"x":0.376,"y":0.211},{"x":0.386,"y":0.221},{"x":0.396,"y":0.23},{"x":0.406,"y":0.24},{"x":0.416,"y":0.25},{"x":0.426,"y":0.259},{"x":0.436,"y":0.269},{"x":0.446,"y":0.278},{"x":0.456,"y":0.288},{"x":0.466,"y":0.298},{"x":0.476,"y":0.307},{"x":0.486,"y":0.317},{"x":0.496,"y":0.326},{"x":0.506,"y":0.336},{"x":0.516,"y":0.346},{"x":0.526,"y":0.355},{"x":0.536,"y":0.365},{"x":0.546,"y":0.374},{"x":0.556,"y":0.384},{"x":0.566,"y":0.394},{"x":0.576,"y":0.403},{"x":0.586,"y":0.413},{"x":0.596,"y":0.422},{"x":0.606,"y":0.432},{"x":0.616,"y":0.442},{"x":0.626,"y":0.451},{"x":0.636,"y":0.461},{"x":0.646,"y":0.47},{"x":0.656,"y":0.48},{"x":0.666,"y":0.49},{"x":0.676,"y":0.499},{"x":0.686,"y":0.509},{"x":0.696,"y":0.518},{"x":0.706,"y":0.528},{"x":0.716,"y":0.538},{"x":0.726,"y":0.547},{"x":0.736,"y":0.557},{"x":0.746,"y":0.566},{"x":0.756,"y":0.576},{"x":0.766,"y":0.586},{"x":0.776,"y":0.595},{"x":0.786,"y":0.605},{"x":0.796,"y":0.614},{"x":0.806,"y":0.624},{"x":0.816,"y":0.634},{"x":0.826,"y":0.643},{"x":0.836,"y":0.653},{"x":0.846,"y":0.662},{"x":0.856,"y":0.672},{"x":0.866,"y":0.682},{"x":0.876,"y":0.691},{"x":0.886,"y":0.701},{"x":0.896,"y":0.71},{"x":0.906,"y":0.72},{"x":0.916,"y":0.73},{"x":0.926,"y":0.739},{"x":0.936,"y":0.749},{"x":0.946,"y":0.758},{"x":0.956,"y":0.768},{"x":0.9635,"y":0.7775},
{"x":0,"y":0.852},{"x":0.01,"y":0.861},{"x":0.02,"y":0.871},{"x":0.03,"y":0.88},{"x":0.04,"y":0.89},{"x":0.05,"y":0.899},{"x":0.06,"y":0.908},{"x":0.07,"y":0.918},{"x":0.08,"y":0.927},{"x":0.09,"y":0.937},{"x":0.1,"y":0.946},{"x":0.11,"y":0.955},{"x":0.12,"y":0.965},{"x":0.13,"y":0.974},{"x":0.14,"y":0.984},{"x":0.147,"y":0.99},
{"x":0,"y":0.89},{"x":0.01,"y":0.899},{"x":0.02,"y":0.909},{"x":0.03,"y":0.918},{"x":0.04,"y":0.928},{"x":0.05,"y":0.937},{"x":0.06,"y":0.946},{"x":0.07,"y":0.956},{"x":0.08,"y":0.965},{"x":0.09,"y":0.975},{"x":0.1,"y":0.984},{"x":0.108,"y":0.99},
{"x":0,"y":0.928},{"x":0.01,"y":0.937},{"x":0.02,"y":0.947},{"x":0.03,"y":0.956},{"x":0.04,"y":0.966},{"x":0.05,"y":0.975},{"x":0.06,"y":0.984},{"x":0.067,"y":0.99},
{"x":0,"y":0.965},{"x":0.01,"y":0.974},{"x":0.02,"y":0.984},{"x":0.028,"y":0.99}
]},"mark":{"type":"circle","size":96,"color":"black","opacity":1},"encoding":{"x":{"field":"x","type":"quantitative","scale":{"domain":[-0.0487,1.039],"nice":false,"zero":false},"axis":{"values":[0,0.2,0.4,0.6,0.8,1],"labelPadding":5.5}},"y":{"field":"y","type":"quantitative","scale":{"domain":[-0.049,1.042],"nice":false,"zero":false},"axis":{"values":[0,0.2,0.4,0.6,0.8,1]}}}}]}
